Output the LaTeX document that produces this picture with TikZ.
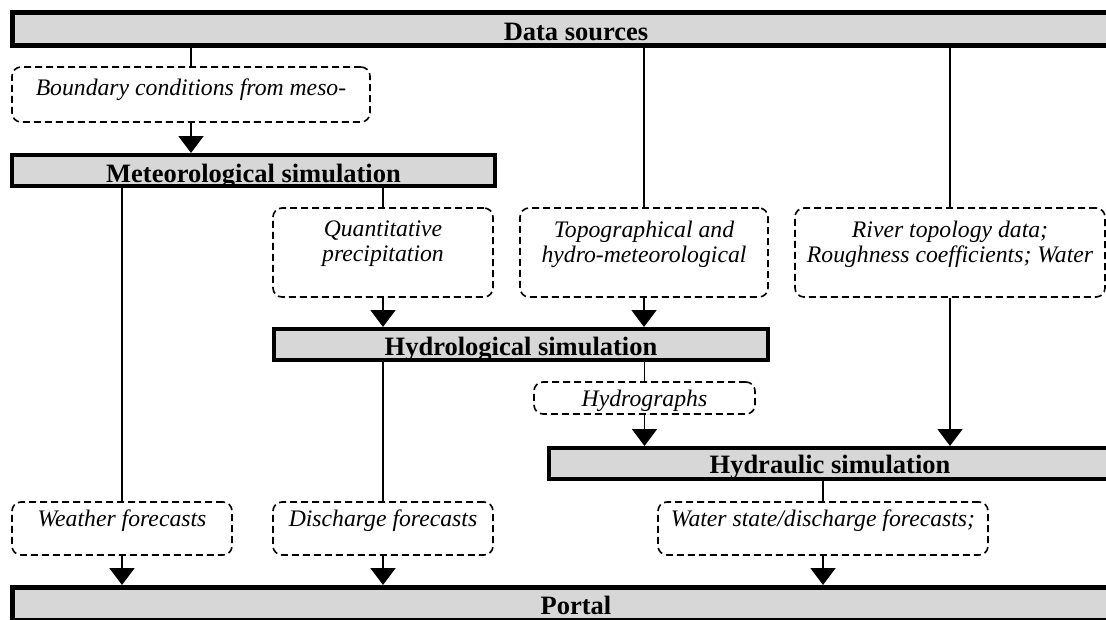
\documentclass[tikz,border=0pt]{standalone}
\usepackage{fontspec}
\setmainfont{Liberation Serif}
\usetikzlibrary{arrows.meta}
\definecolor{barfill}{RGB}{215,215,215}

\begin{document}
\begin{tikzpicture}[x=1pt, y=-1pt,
	  bar/.style={draw=black, fill=barfill, line width=4pt, inner sep=0pt, text depth=0pt,
	    minimum height=31pt, font=\fontsize{26.5}{28}\selectfont\bfseries},
	  dbox/.style={draw=black, dash pattern=on 7pt off 4pt, line width=1.6pt, rounded corners=9pt,
	    inner sep=0pt, align=center, font=\fontsize{23.7}{25}\selectfont\itshape},
	  link/.style={line width=1.6pt},
	  flow/.style={line width=1.6pt, -{Triangle[width=25pt, length=17pt]}}]
	  \path[use as bounding box, clip] (0,0) rectangle (1106,619);
	  % bars
	  \node[bar, line width=5pt, minimum width=1127pt, minimum height=33pt, text height=22pt] (src) at (576,29) {Data sources};
	  \node[bar, minimum width=483pt, text height=23pt] (met) at (253.5,170.5) {Meteorological simulation};
	  \node[bar, minimum width=494pt, text height=21pt] (hyd) at (521,344.5) {Hydrological simulation};
	  \node[bar, minimum width=562pt, text height=19pt] (hyr) at (830,463.5) {Hydraulic simulation};
	  \node[bar, line width=5pt, minimum width=1127pt, minimum height=33pt, text height=20pt] (portal) at (576,604) {Portal};
	  % data boxes
	  \node[dbox, minimum width=358pt, minimum height=55pt, text height=16pt, text depth=15pt] (bnd) at (191,94.5) {Boundary conditions from meso-};
	  \node[dbox, minimum width=220pt, minimum height=89pt, text depth=22pt] (quant) at (383,252.5) {Quantitative\\precipitation};
	  \node[dbox, minimum width=248pt, minimum height=89pt, text depth=22pt] (topo) at (644,252.5) {Topographical and\\hydro-meteorological};
	  \node[dbox, minimum width=310pt, minimum height=89pt, text depth=22pt] (river) at (950,252.5) {River topology data;\\Roughness coefficients; Water};
	  \node[dbox, minimum width=221pt, minimum height=32pt, text height=16pt, text depth=0pt] (hgr) at (644.5,398) {Hydrographs};
	  \node[dbox, minimum width=220pt, minimum height=53pt, text height=16pt, text depth=21pt] (wthr) at (122,528.5) {Weather forecasts};
	  \node[dbox, minimum width=220pt, minimum height=53pt, text height=16pt, text depth=21pt] (disch) at (383,528.5) {Discharge forecasts};
	  \node[dbox, minimum width=330pt, minimum height=53pt, text height=16pt, text depth=21pt] (wfc) at (823,528.5) {Water state/discharge forecasts;};
	  % links
	  \draw[link] (bnd.north |- src.south) -- (bnd.north);
	  \draw[flow] (bnd.south) -- (bnd.south |- met.north);
	  \draw[link] (topo.north |- src.south) -- (topo.north);
	  \draw[link] (river.north |- src.south) -- (river.north);
	  \draw[link] (wthr.north |- met.south) -- (wthr.north);
	  \draw[link] (quant.north |- met.south) -- (quant.north);
	  \draw[flow] (quant.south) -- (quant.south |- hyd.north);
	  \draw[flow] (topo.south) -- (topo.south |- hyd.north);
	  \draw[flow] (river.south) -- (river.south |- hyr.north);
	  \draw[link] (disch.north |- hyd.south) -- (disch.north);
	  \draw[link] (hgr.north |- hyd.south) -- (hgr.north);
	  \draw[flow] (hgr.south) -- (hgr.south |- hyr.north);
	  \draw[link] (wfc.north |- hyr.south) -- (wfc.north);
	  \foreach \n in {wthr,disch,wfc}
	    \draw[flow] (\n.south) -- (\n.south |- portal.north);
	\end{tikzpicture}
\end{document}
